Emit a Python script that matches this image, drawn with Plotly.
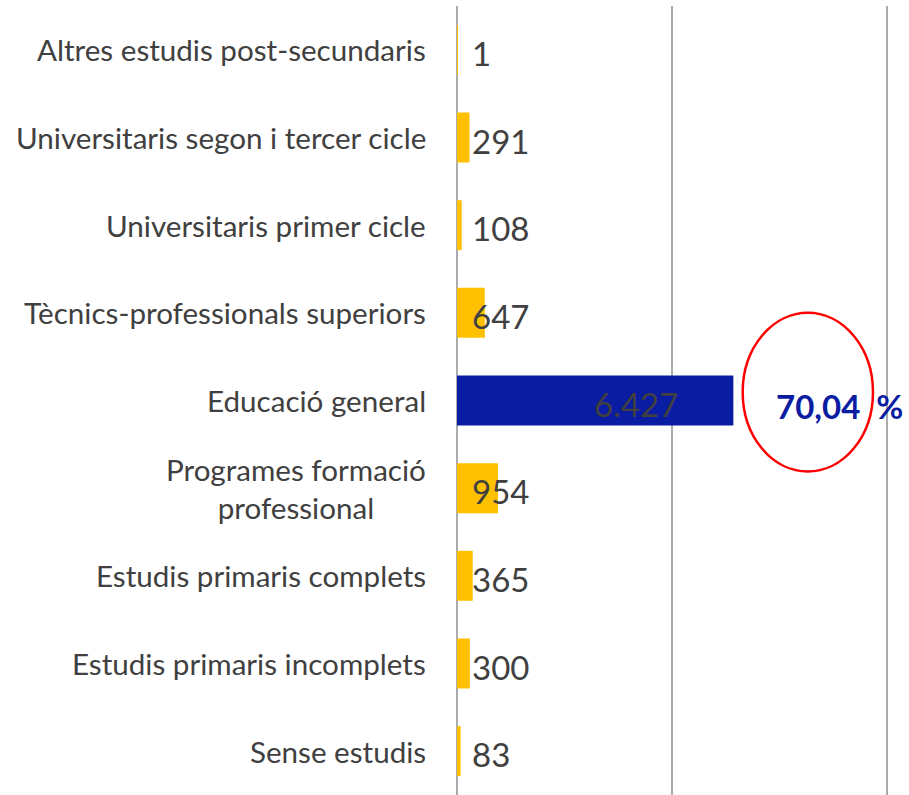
import plotly.graph_objects as go

categories = [
    "Altres estudis post-secundaris",
    "Universitaris segon i tercer cicle",
    "Universitaris primer cicle",
    "Tècnics-professionals superiors",
    "Educació general",
    "Programes formació<br>professional",
    "Estudis primaris complets",
    "Estudis primaris incomplets",
    "Sense estudis",
]
values = [1, 291, 108, 647, 6427, 954, 365, 300, 83]
value_labels = ["1", "291", "108", "647", "6.427", "954", "365", "300", "83"]
highlight_label = "70,04\u00a0\u00a0%"
highlight_index = 4
grid_ticks = [0, 5000, 10000]

YELLOW = "#FFC000"
BLUE = "#0A1CA1"
TEXT = "#404040"
FONT = "Lato"

colors = [BLUE if i == highlight_index else YELLOW for i in range(len(values))]

fig = go.Figure()
fig.add_trace(go.Bar(
    x=values, y=categories, orientation="h",
    marker=dict(color=colors, line=dict(width=0)),
    hoverinfo="skip",
))

annotations = []
for i, (cat, lab) in enumerate(zip(categories, value_labels)):
    annotations.append(dict(
        xref="paper", x=0, y=cat, yref="y", xanchor="right", xshift=-29,
        text=cat, showarrow=False, align="center",
        font=dict(family=FONT, size=29.6, color=TEXT),
    ))
    if i == highlight_index:
        annotations.append(dict(
            x=values[i], y=cat, xref="x", yref="y", xanchor="right", xshift=-53, yshift=-3,
            text=lab, showarrow=False,
            font=dict(family=FONT, size=33, color=TEXT),
        ))
    else:
        annotations.append(dict(
            x=0, y=cat, xref="x", yref="y", xanchor="left", xshift=13, yshift=-3,
            text=lab, showarrow=False,
            font=dict(family=FONT, size=33, color=TEXT),
        ))

annotations.append(dict(
    x=values[highlight_index], y=categories[highlight_index], xref="x", yref="y",
    xanchor="left", xshift=41, yshift=-5,
    text="<b>" + highlight_label + "</b>", showarrow=False,
    font=dict(family=FONT, size=33, color=BLUE),
))

fig.add_shape(
    type="circle", xref="x", yref="y",
    x0=6644, x1=9674, y0=3.0, y1=4.81,
    line=dict(color="#FF0000", width=2.5),
    fillcolor="rgba(0,0,0,0)",
)

fig.update_layout(
    width=909, height=795,
    margin=dict(l=457, r=10, t=6, b=0),
    paper_bgcolor="white", plot_bgcolor="white",
    bargap=0.43,
    showlegend=False,
    annotations=annotations,
    font=dict(family=FONT, color=TEXT),
)
fig.update_xaxes(
    range=[0, 10279], tickvals=grid_ticks, showticklabels=False,
    showgrid=True, gridcolor="#ABABAB", gridwidth=1.5,
    zeroline=True, zerolinecolor="#ABABAB", zerolinewidth=1.5,
    showline=False, fixedrange=True,
)
fig.update_yaxes(
    autorange="reversed", showticklabels=False, showgrid=False,
    showline=False, zeroline=False, fixedrange=True,
)

fig.write_html("out.html", config={"displayModeBar": False},
               post_script="document.body.style.margin='0';")
